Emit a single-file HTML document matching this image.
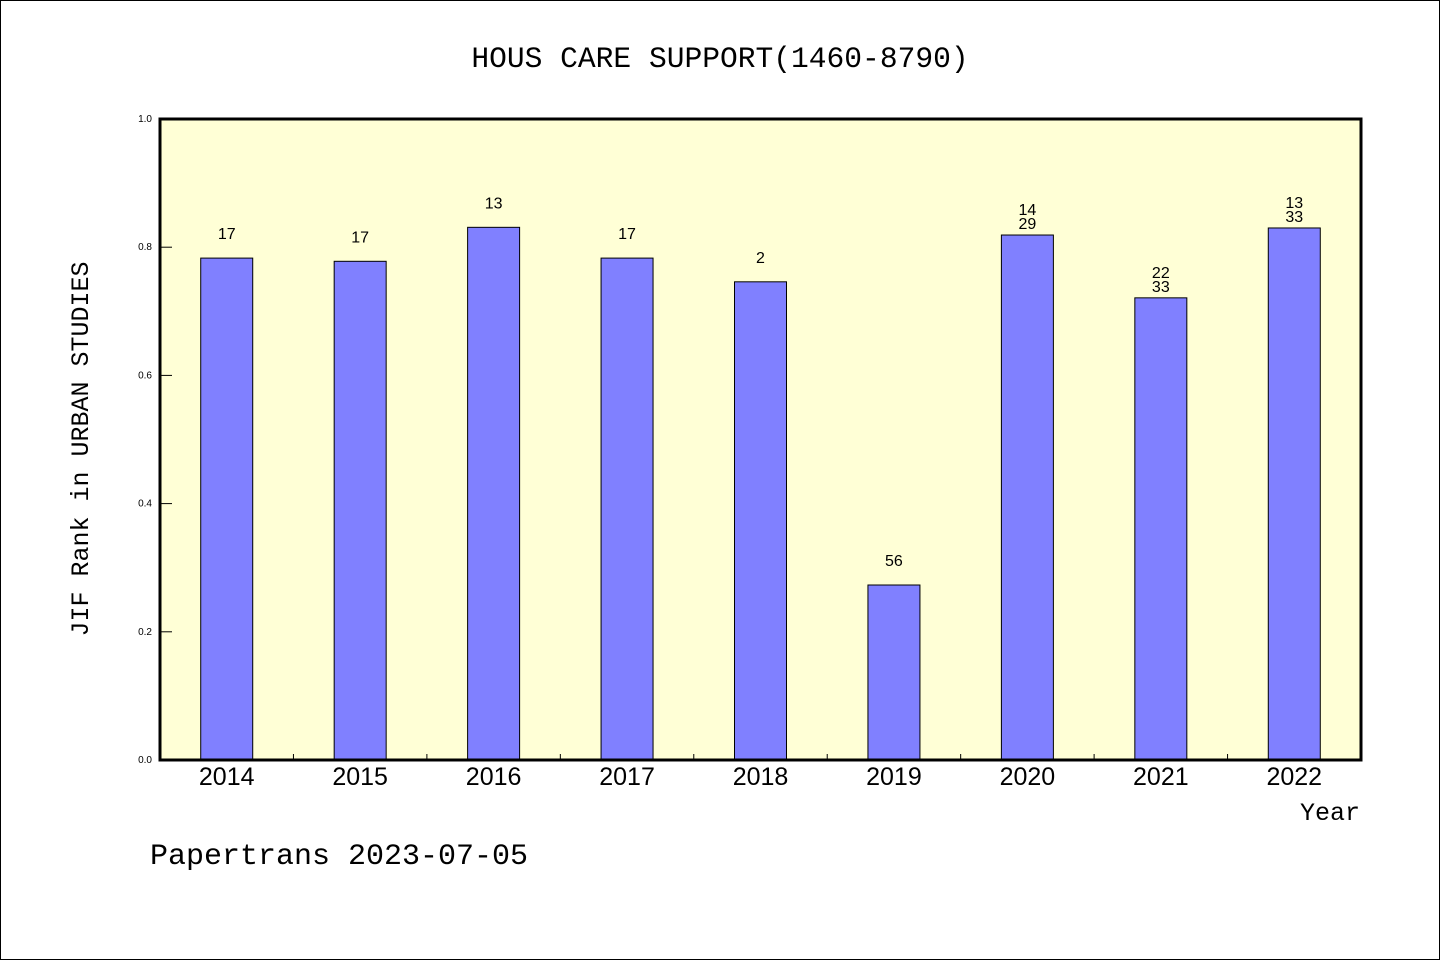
<!DOCTYPE html>
<html><head><meta charset="utf-8"><style>
html,body{margin:0;padding:0;background:#fff;}
svg{display:block;}
text{font-family:"Liberation Sans","WenQuanYi Zen Hei",sans-serif;fill:#000;}
</style></head><body>
<svg id="chart" width="1440" height="960" xmlns="http://www.w3.org/2000/svg">
<rect x="0.5" y="0.5" width="1439" height="959" fill="#fff" stroke="#000" stroke-width="1"/>
<text x="720" y="67" text-anchor="middle" font-size="29.6" style="font-family:'Liberation Mono','WenQuanYi Zen Hei',monospace">HOUS CARE SUPPORT(1460-8790)</text>
<rect x="160" y="119" width="1201" height="641" fill="#ffffd6"/>
<g id="bars"></g>
<g id="axes"></g>
<text transform="translate(88,449) rotate(-90)" text-anchor="middle" font-size="25" style="font-family:'Liberation Mono','WenQuanYi Zen Hei',monospace">JIF Rank in URBAN STUDIES</text>
<text x="1360" y="820" text-anchor="end" font-size="25" style="font-family:'Liberation Mono','WenQuanYi Zen Hei',monospace">Year</text>
<text x="150" y="864" font-size="30" style="font-family:'Liberation Mono','WenQuanYi Zen Hei',monospace">Papertrans 2023-07-05</text>
</svg>
<script>
const categories = ["2014","2015","2016","2017","2018","2019","2020","2021","2022"];
const values = [0.783,0.778,0.831,0.783,0.746,0.273,0.819,0.721,0.830];
const labelTop = ["","","","","","","14","22","13"];
const labelMain = ["17","17","13","17","2","56","29","33","33"];
const yTicks = [0,0.2,0.4,0.6,0.8,1.0];
const yTickLabels = ["0.0","0.2","0.4","0.6","0.8","1.0"];

const L=160,R=1361,T=119,B=760;
const band=(R-L)/categories.length;
const xs=i=>L+band*(i+0.5);
const ys=v=>B-(B-T)*v;
const NS="http://www.w3.org/2000/svg";
function mk(tag,attrs,parent,txt){const e=document.createElementNS(NS,tag);for(const k in attrs)e.setAttribute(k,attrs[k]);if(txt!==undefined)e.textContent=txt;parent.appendChild(e);return e;}
const bars=document.getElementById('bars'), axes=document.getElementById('axes');
const bw=52;
categories.forEach((c,i)=>{
  const y=ys(values[i]);
  const r=mk('rect',{x:xs(i)-bw/2,y:y,width:bw,height:B-y,fill:'#8080ff',stroke:'#000','stroke-width':1},bars);
  
  
  const t=mk('text',{x:xs(i),y:y-(labelTop[i]?6:19),'text-anchor':'middle','font-size':16},bars,labelMain[i]);
  
  
  if(labelTop[i]){
    const t2=mk('text',{x:xs(i),y:y-20,'text-anchor':'middle','font-size':16},bars,labelTop[i]);
    
    
  }
  const xl=mk('text',{x:xs(i),y:785,'text-anchor':'middle','font-size':25},axes,c);
  
  
  if(i>0){
    const tk=mk('line',{x1:L+band*i,x2:L+band*i,y1:B,y2:B-6,stroke:'#000','stroke-width':1},axes);
    
    
  }
});
yTicks.forEach((v,i)=>{
  const y=ys(v);
  const tk=mk('line',{x1:L,x2:L+12,y1:y,y2:y,stroke:'#000','stroke-width':1},axes);
  
  
  const tl=mk('text',{x:152,y:y+3,'text-anchor':'end','font-size':10},axes,yTickLabels[i]);
  
  
});
const frame=mk('rect',{x:L,y:T,width:R-L,height:B-T,fill:'none',stroke:'#000','stroke-width':3},axes);


</script>
</body></html>
